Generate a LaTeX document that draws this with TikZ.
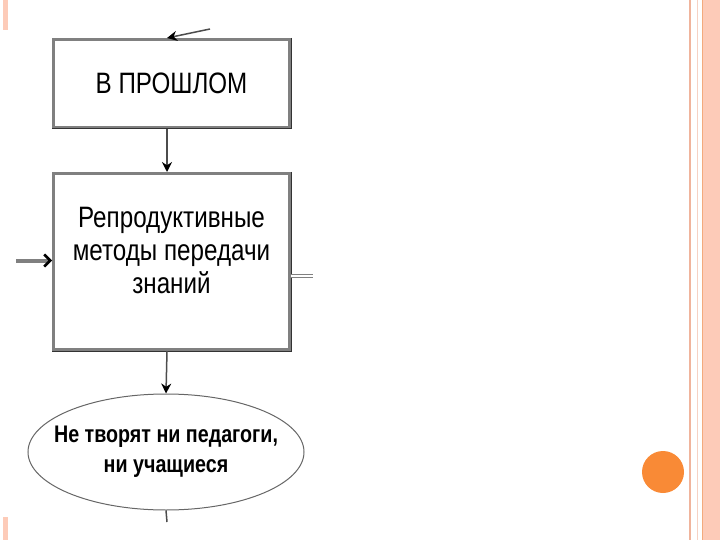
\documentclass[tikz,border=0pt]{standalone}
\usepackage{fontspec}
\newfontfamily\narrowsans[FakeStretch=0.82]{Liberation Sans}
\usepackage{tikz}
\usetikzlibrary{shapes.geometric,arrows.meta}
\definecolor{salmon}{HTML}{FDCBB8}
\definecolor{salmonline}{HTML}{F0B49C}
\definecolor{dotorange}{HTML}{F98A36}

\begin{document}
\begin{tikzpicture}[x=1pt,y=-1pt]
\useasboundingbox (0,0) rectangle (720,540);
% side decorations
\fill[salmon] (3,0) rectangle (8,30);
\fill[salmon] (3,517) rectangle (8,540);
\fill[salmon] (703,0) rectangle (720,540);
\draw[salmonline,line width=1.5pt] (690,0) -- (690,540);
\draw[salmonline!60,line width=1pt] (697,0) -- (697,540);
\draw[salmonline!80!orange,line width=1pt] (702,0) -- (702,540);
\fill[dotorange] (663,472) circle (21);
% blocks
\tikzset{blk/.style={draw=gray,line width=3pt,fill=white,minimum width=236pt,align=center,font=\narrowsans\fontsize{29.5}{33}\selectfont},
  flow/.style={gray!60!black,line width=1.5pt,-{Stealth[length=10pt,width=10pt,black]}}}
\node[blk,minimum height=88pt] (past) at (171.5,83.5) {В ПРОШЛОМ};
\node[blk,minimum height=176pt] (repro) at (171.5,261.5) {Репродуктивные\\методы передачи\\знаний\\[-10pt]\mbox{}};
\node[ellipse,draw=gray!80!black,line width=1pt,inner sep=0pt,minimum width=276pt,minimum height=116pt] (none) at (166,452) {};
\node[align=center,font=\narrowsans\bfseries\fontsize{24}{30}\selectfont] (nonetext) at (none.center) {Не творят ни педагоги,\\ни учащиеся};
% shadows of the blocks
\draw[black!80,line width=1pt] (past.north east) -- (past.south east) -- (past.south west);
\draw[black!80,line width=1pt] (repro.north east) -- (repro.south east) -- (repro.south west);
% connectors
\coordinate (intop) at (210,29);
\coordinate (inleft) at (16,260.5);
\coordinate (outright) at (313,276);
\coordinate (outdown) at (167,522);
\draw[flow] (intop) -- ([xshift=-4.5pt]past.north);
\draw[flow] ([xshift=-4.5pt]past.south) -- ([xshift=-4.5pt]repro.north);
\draw[gray,line width=4pt,-{Straight Barb[length=6pt,width=12pt,black,line width=2.5pt]}] (inleft) -- (inleft -| repro.west);
\draw[gray,double=white,double distance=2.5pt,line width=1pt] (outright -| repro.east) -- (outright);
\draw[flow] ([xshift=-4.5pt]repro.south) -- (none.north);
\draw[gray!60!black,line width=1.5pt] (none.south) -- (outdown);
\end{tikzpicture}
\end{document}
